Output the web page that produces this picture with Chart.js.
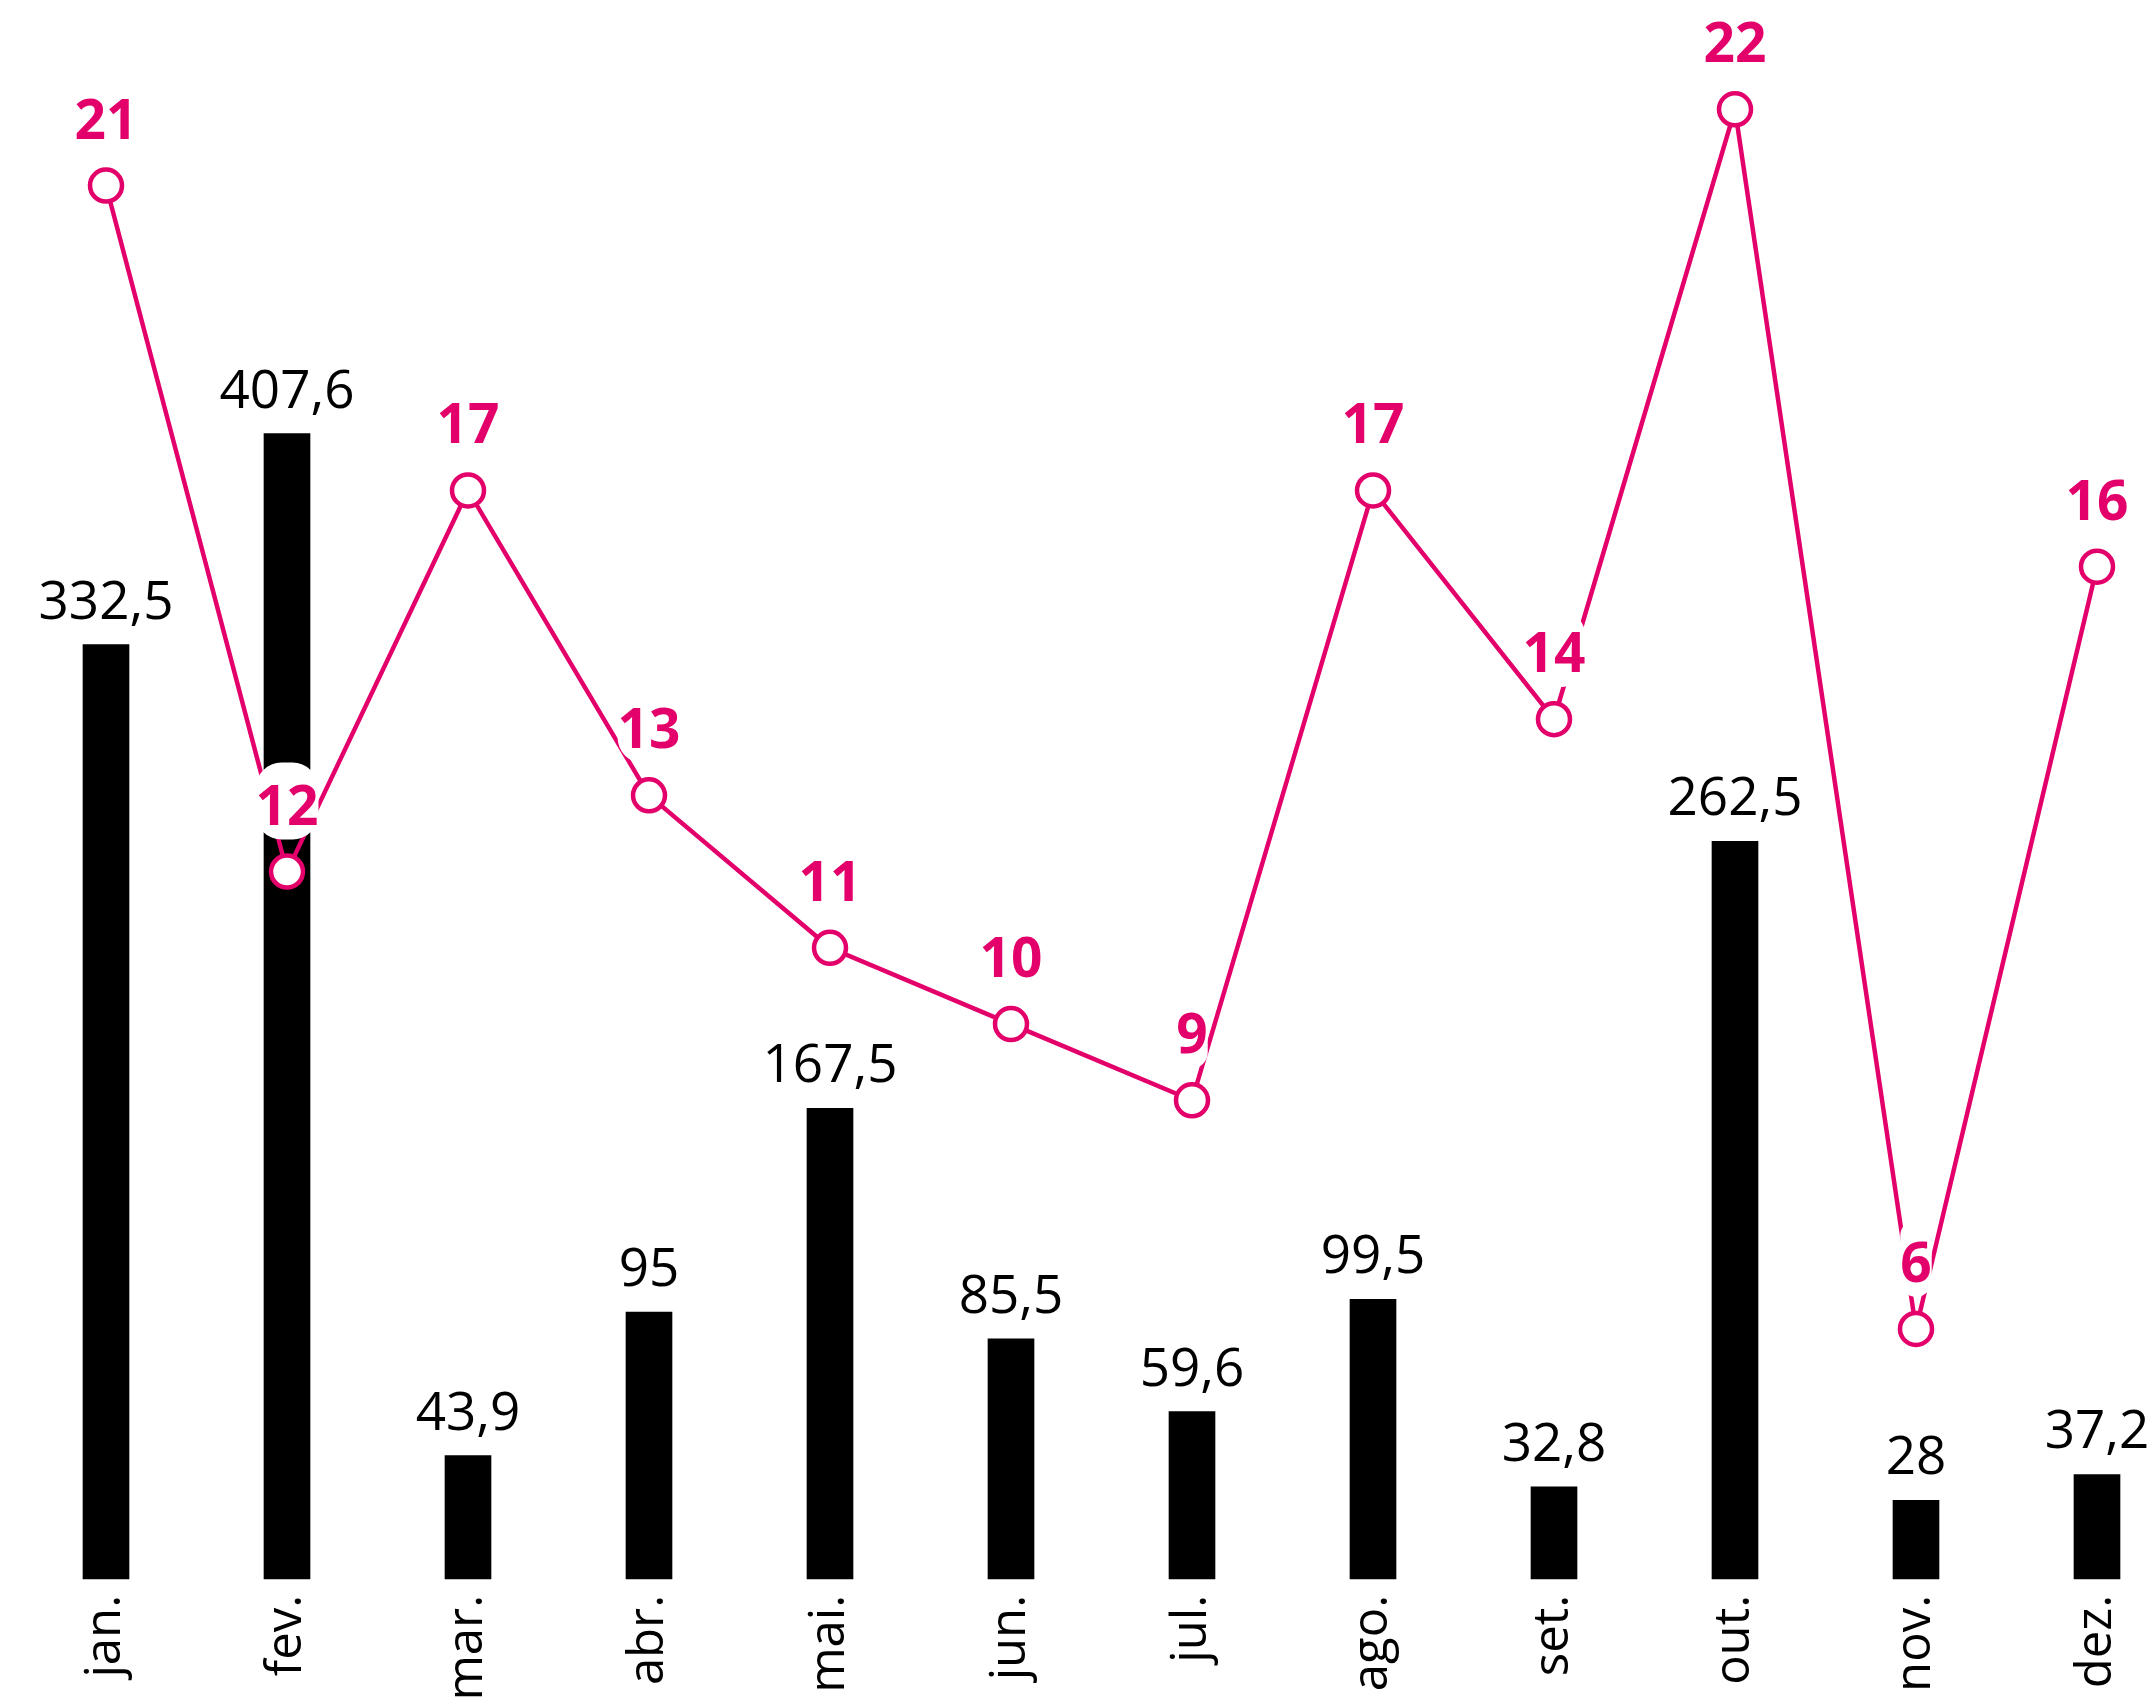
<!DOCTYPE html>
<html>
<head>
<meta charset="utf-8">
<script src="https://cdn.jsdelivr.net/npm/chart.js@4"></script>
<style>
html,body{margin:0;padding:0;background:#fff;}
#wrap{width:2153px;height:1704px;position:relative;}
</style>
</head>
<body>
<div id="wrap"><canvas id="c" width="2153" height="1704"></canvas></div>
<script>
const months = ["jan.","fev.","mar.","abr.","mai.","jun.","jul.","ago.","set.","out.","nov.","dez."];
const barValues = [332.5,407.6,43.9,95,167.5,85.5,59.6,99.5,32.8,262.5,28,37.2];
const lineValues = [21,12,17,13,11,10,9,17,14,22,6,16];

const PINK = '#e4006a';
const fmt = v => String(v).replace('.', ',');

const labelPlugin = {
  id: 'valueLabels',
  afterDatasetsDraw(chart) {
    const ctx = chart.ctx;
    ctx.save();
    // bar labels
    const barMeta = chart.getDatasetMeta(1);
    ctx.font = '500 53px "Open Sans"';
    ctx.fillStyle = '#000';
    ctx.textAlign = 'center';
    ctx.textBaseline = 'alphabetic';
    barMeta.data.forEach((el, i) => {
      ctx.fillText(fmt(barValues[i]), el.x, el.y - 26);
    });
    // line labels
    const lineMeta = chart.getDatasetMeta(0);
    ctx.font = 'bold 55px "Open Sans"';
    lineMeta.data.forEach((el, i) => {
      const t = fmt(lineValues[i]);
      const w = ctx.measureText(t).width;
      const base = el.y - 47;
      const bx = el.x - w / 2, by = base - 62, bw = w, bh = 77, r = Math.min(26, bw / 2);
      ctx.fillStyle = '#fff';
      ctx.beginPath();
      ctx.roundRect(bx, by, bw, bh, r);
      ctx.fill();
      ctx.fillStyle = PINK;
      ctx.fillText(t, el.x, base);
    });
    ctx.restore();
  }
};

new Chart(document.getElementById('c'), {
  data: {
    labels: months,
    datasets: [
      {
        type: 'line',
        data: lineValues,
        yAxisID: 'y1',
        borderColor: PINK,
        borderWidth: 4.5,
        pointRadius: 16,
        pointBorderWidth: 4.5,
        pointBackgroundColor: '#fff',
        pointBorderColor: PINK,
        tension: 0,
        clip: false,
        order: 0
      },
      {
        type: 'bar',
        data: barValues,
        yAxisID: 'y',
        backgroundColor: '#000',
        barThickness: 46,
        clip: false,
        order: 1
      }
    ]
  },
  options: {
    responsive: false,
    animation: false,
    layout: { autoPadding: false, padding: { left: 106, right: 56, top: 0, bottom: 0 } },
    plugins: { legend: { display: false }, tooltip: { enabled: false } },
    scales: {
      x: {
        type: 'category',
        offset: false,
        grid: { display: false },
        border: { display: false },
        ticks: {
          color: '#000',
          font: { family: '"Open Sans"', size: 49, weight: '500' },
          minRotation: 90,
          maxRotation: 90,
          padding: 8,
          autoSkip: false
        },
        afterFit: s => { s.height = 125; s.paddingLeft = 0; s.paddingRight = 0; }
      },
      y: {
        display: false,
        min: 0,
        max: 561.9
      },
      y1: {
        display: false,
        min: 2.72,
        max: 23.434
      }
    }
  },
  plugins: [labelPlugin]
});
</script>
</body>
</html>
